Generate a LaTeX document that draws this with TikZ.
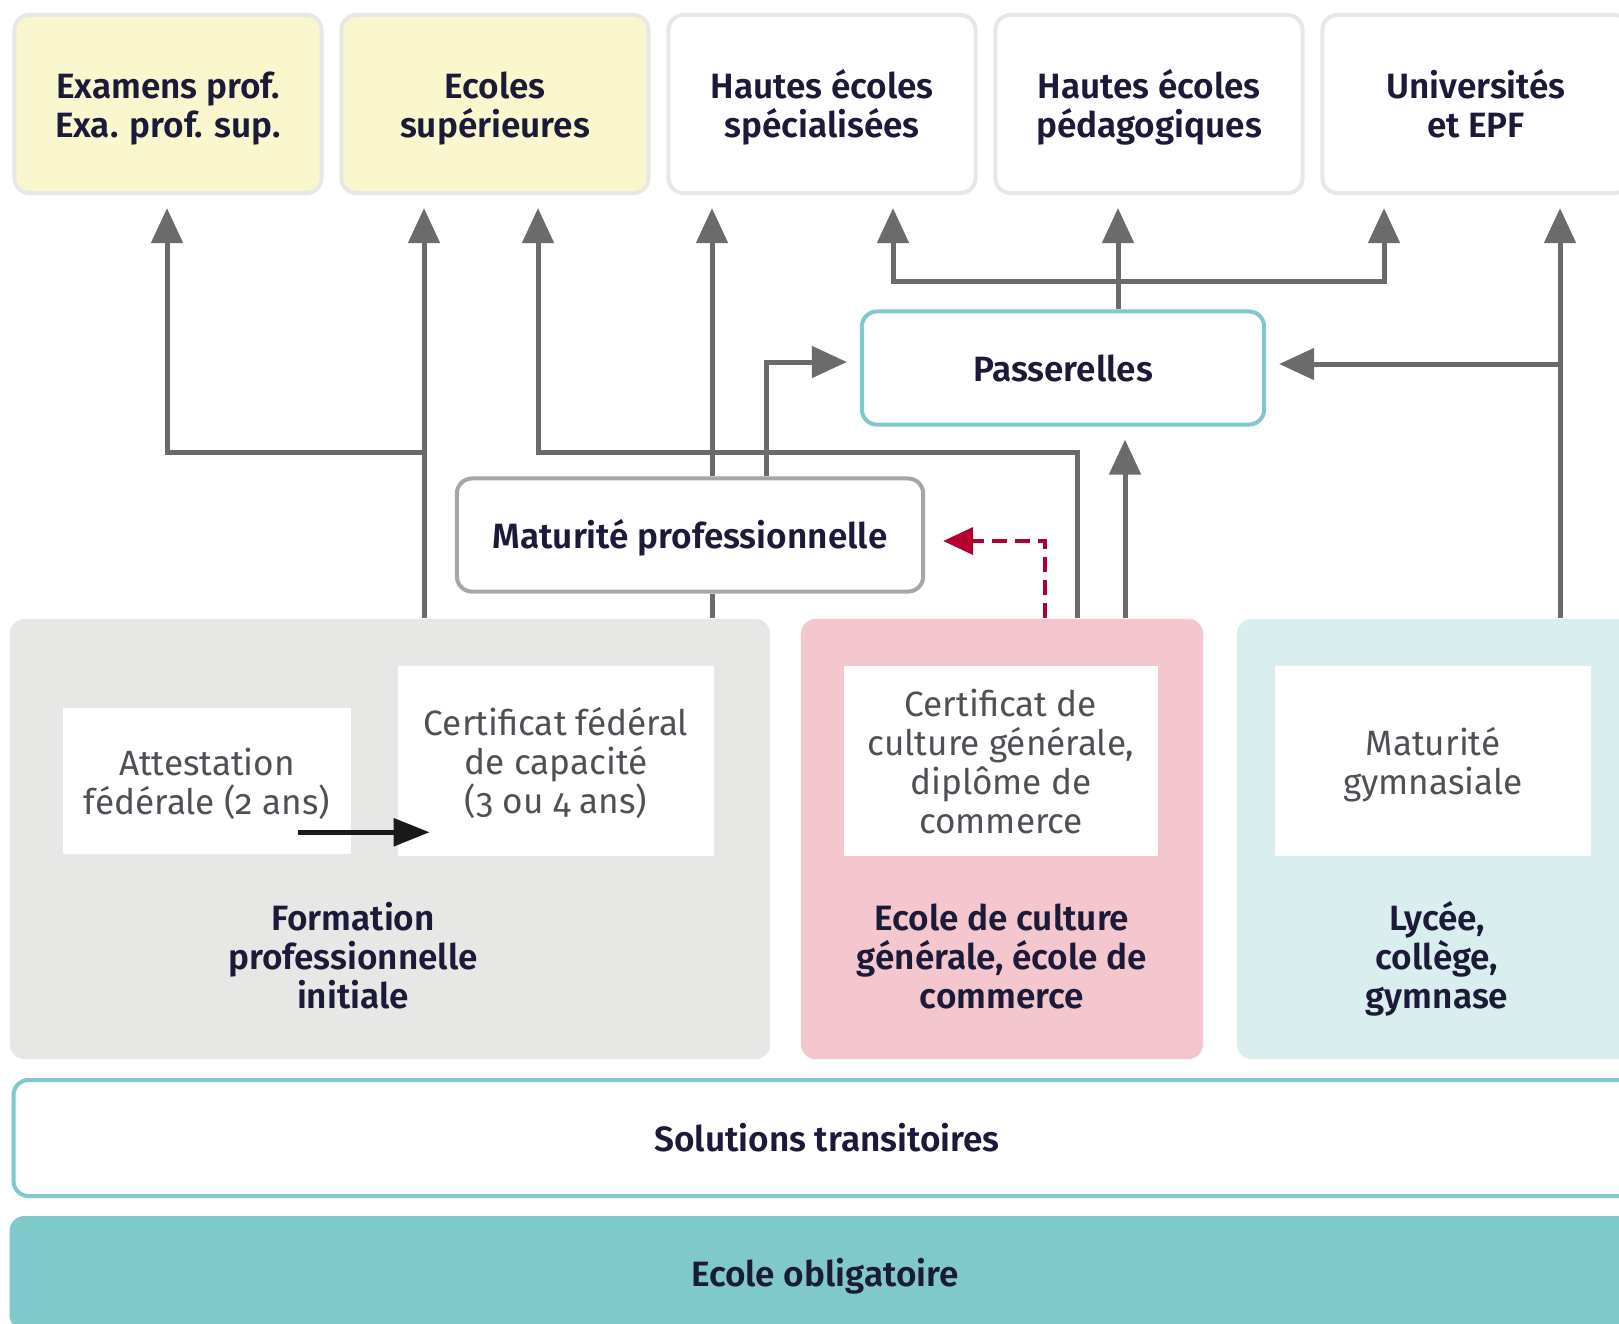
\documentclass[tikz,border=0pt]{standalone}
\usepackage{fontspec}
\setmainfont{Fira Sans}[Numbers=OldStyle, BoldFont={Fira Sans SemiBold}]
\usepackage{tikz}
\usetikzlibrary{arrows.meta}
\usetikzlibrary{calc}
\usetikzlibrary{positioning}

\definecolor{linegray}{HTML}{6B6B6B}
\definecolor{boxline}{HTML}{E8E8E6}
\definecolor{paleyellow}{HTML}{FAF7CE}
\definecolor{matline}{HTML}{A6A6A6}
\definecolor{teal}{HTML}{7FC9CA}
\definecolor{greybg}{HTML}{E7E7E6}
\definecolor{pinkbg}{HTML}{F4C6CD}
\definecolor{cyanbg}{HTML}{D9EEEF}
\definecolor{darkred}{HTML}{B4002E}
\definecolor{navy}{HTML}{1B1A38}
\definecolor{softtext}{HTML}{4F4F55}

% struts so every block of lines sits at the same height
\newcommand{\tallstrut}{\rule{0pt}{11.2pt}}
\newcommand{\deepstrut}{\rule[-3.4pt]{0pt}{0pt}}

\tikzset{
	conn/.style={draw=linegray, line width=0.05cm, -{Triangle[length=0.35cm,width=0.31cm]}, shorten >=0.13cm},
	twoway/.style={conn, {Triangle[length=0.35cm,width=0.31cm]}-{Triangle[length=0.35cm,width=0.31cm]}, shorten <=0.13cm},
	plainline/.style={draw=linegray, line width=0.05cm},
	dasharrow/.style={draw=darkred, line width=0.04cm, dash pattern=on 0.15cm off 0.08cm, -{Triangle[length=0.3cm,width=0.27cm]}, shorten >=0.18cm},
	blackarrow/.style={draw=black!90, line width=0.055cm, -{Triangle[length=0.36cm,width=0.27cm]}},
	topbox/.style={draw=boxline, line width=0.04cm, rounded corners=0.15cm, fill=white, minimum width=3.07cm, minimum height=1.78cm, inner sep=0pt},
	midbox/.style={fill=white, line width=0.04cm, rounded corners=0.15cm, minimum height=1.13cm, inner sep=0pt},
	group/.style={rounded corners=0.15cm, minimum height=4.4cm, inner sep=0pt},
	innerbox/.style={fill=white, minimum height=1.9cm, inner sep=0pt, text=softtext},
	heavy/.style={font=\fontsize{10}{11.1}\selectfont\bfseries}
}

\begin{document}
\begin{tikzpicture}
	[x=0.01cm, y=-0.01cm, every node/.style={font=\fontsize{10}{11.1}\selectfont, text=navy, align=center}]
	\useasboundingbox (0,0) rectangle (1619,1323);
	\clip (0,0) rectangle (1619,1323);

	% top row
	\node[topbox, heavy, fill=paleyellow] (exam) at (168,104) {\tallstrut Examens prof.\\Exa. prof. sup.\deepstrut};
	\node[topbox, heavy, fill=paleyellow] (ecsup) at (495,104) {\tallstrut Ecoles\\supérieures\deepstrut};
	\node[topbox, heavy] (hes) at (822,104) {\tallstrut Hautes écoles\\spécialisées\deepstrut};
	\node[topbox, heavy] (hep) at (1149,104) {\tallstrut Hautes écoles\\pédagogiques\deepstrut};
	\node[topbox, heavy] (uni) at (1476,104) {\tallstrut Universités\\et EPF\deepstrut};

	\node[midbox, heavy, draw=teal, minimum width=4.02cm] (pass) at (1063,368) {\tallstrut Passerelles\deepstrut};
	\node[midbox, heavy, draw=matline, minimum width=4.66cm] (matpro) at (690,535) {\tallstrut Maturité professionnelle\deepstrut};

	% secondary level
	\node[group, fill=greybg, minimum width=7.6cm] (form) at (390,839) {};
	\node[group, fill=pinkbg, minimum width=4.02cm] (ecg) at (1002,839) {};
	\node[group, fill=cyanbg, minimum width=4.02cm] (lyc) at (1438,839) {};

	\node[innerbox, minimum width=2.88cm, minimum height=1.45cm] (att) at (207,781) {\tallstrut Attestation\\fédérale (2 ans)\deepstrut};
	\node[innerbox, minimum width=3.15cm] (cfc) at (556,761) {\tallstrut Certificat fédéral\\de capacité\\(3 ou 4 ans)\deepstrut};
	\node[innerbox, minimum width=3.14cm] (ccg) at (1001,761) {\tallstrut Certificat de\\culture générale,\\diplôme de\\commerce\deepstrut};
	\node[innerbox, minimum width=3.16cm] (matgym) at (1433,761) {\tallstrut Maturité\\gymnasiale\deepstrut};

	\node[heavy] (formlab) at (353,956) {\tallstrut Formation\\professionnelle\\initiale\deepstrut};
	\node[heavy] (ecglab) at (1002,956) {\tallstrut Ecole de culture\\générale, école de\\commerce\deepstrut};
	\node[heavy] (lyclab) at (1437,956) {\tallstrut Lycée,\\collège,\\gymnase\deepstrut};

	\node[heavy, draw=teal, line width=0.04cm, rounded corners=0.15cm, fill=white, minimum width=16.26cm, minimum height=1.16cm] (solu) at (827,1138) {\tallstrut Solutions transitoires\deepstrut};
	\node[heavy, fill=teal, rounded corners=0.15cm, minimum width=16.3cm, minimum height=1.14cm] (oblig) at (825,1273) {\tallstrut Ecole obligatoire\deepstrut};

	% connectors
	\draw[conn] (form.north -| 424,0) -- (ecsup.south -| 424,0);
	\draw[conn] (424,452) -| (exam.south -| 167,0);
	\draw[conn] (ecg.north -| 1077,0) |- (538,452) -- (ecsup.south -| 538,0);
	\draw[plainline] (form.north -| 712,0) -- (matpro.south -| 712,0);
	\draw[conn] (matpro.north -| 712,0) -- (hes.south -| 712,0);
	\draw[conn] (matpro.north -| 766,0) |- (pass.west |- 0,362);
	\draw[conn] (ecg.north -| 1125,0) -- (pass.south -| 1125,0);
	\draw[twoway] (hes.south -| 893,0) -- (893,281) -- (1384,281) -- (uni.south -| 1384,0);
	\draw[conn] (pass.north -| 1118,0) -- (hep.south -| 1118,0);
	\draw[conn] (lyc.north -| 1560,0) -- (uni.south -| 1560,0);
	\draw[conn] (1560,364) -- (pass.east |- 0,364);
	\draw[dasharrow] (ecg.north -| 1045,0) |- ([yshift=-0.06cm]matpro.east);
	\draw[blackarrow] ($(att.south east)+(-54,-22)$) -- ($(att.south east -| cfc.west)+(32,-22)$);
\end{tikzpicture}
\end{document}
